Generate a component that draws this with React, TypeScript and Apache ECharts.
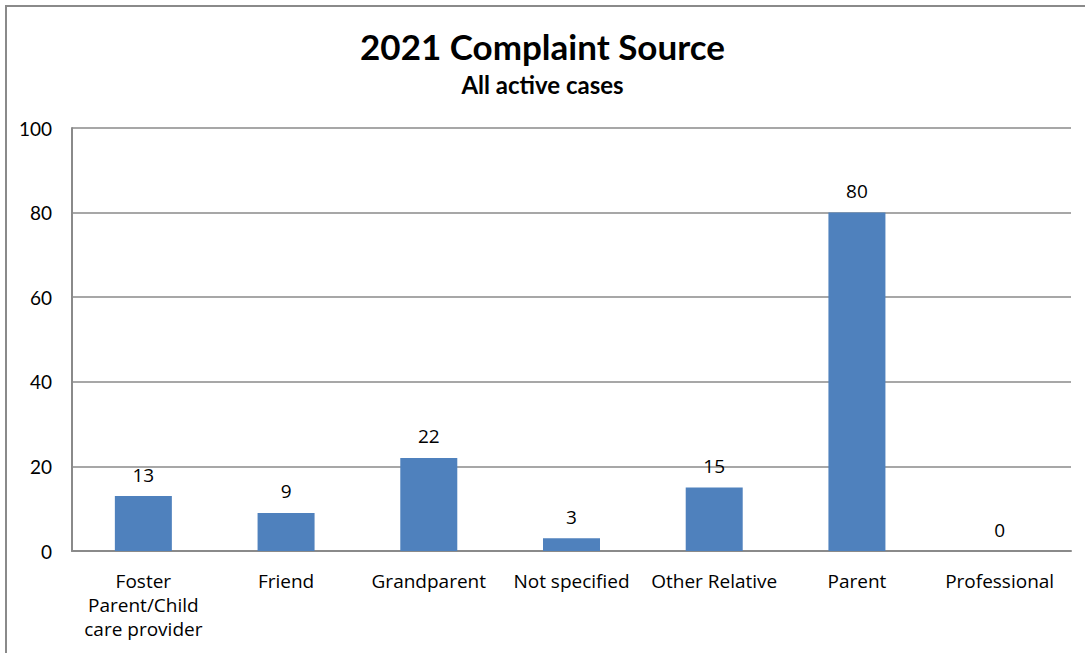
import React, { useEffect, useRef } from "react";
import * as echarts from "echarts";

const categories = [
  "Foster\nParent/Child\ncare provider",
  "Friend",
  "Grandparent",
  "Not specified",
  "Other Relative",
  "Parent",
  "Professional",
];
const values = [13, 9, 22, 3, 15, 80, 0];
const titleText = "2021 Complaint Source";
const subtitleText = "All active cases";

const FONT = "Lato, 'Open Sans', sans-serif";
const WIDE = "'Open Sans', Lato, sans-serif";

export default function App() {
  const ref = useRef<HTMLDivElement>(null);
  useEffect(() => {
    const chart = echarts.init(ref.current!, null, { renderer: "svg" });
    chart.setOption({
      animation: false,
      backgroundColor: "#ffffff",
      graphic: [
        {
          type: "rect",
          shape: { x: 6, y: 6, width: 1200, height: 800 },
          style: { fill: "none", stroke: "#8a8a8a", lineWidth: 2 },
          silent: true,
        },
      ],
      title: {
        text: titleText,
        subtext: subtitleText,
        left: "center",
        top: 23,
        itemGap: 9,
        textStyle: { fontFamily: FONT, fontSize: 35, fontWeight: "bold", color: "#000" },
        subtextStyle: { fontFamily: FONT, fontSize: 24, fontWeight: "bold", color: "#000" },
      },
      grid: { left: 72, right: 14, top: 128, bottom: 102, containLabel: false },
      xAxis: {
        type: "category",
        data: categories,
        axisLine: { show: true, lineStyle: { color: "#8a8a8a", width: 2 } },
        axisTick: { show: false },
        axisLabel: {
          interval: 0,
          margin: 18,
          fontFamily: WIDE,
          fontSize: 19,
          lineHeight: 24,
          color: "#000",
        },
      },
      yAxis: {
        type: "value",
        min: 0,
        max: 100,
        interval: 20,
        axisLine: { show: true, lineStyle: { color: "#8a8a8a", width: 2 } },
        axisTick: { show: false },
        splitLine: { show: true, lineStyle: { color: "#8a8a8a", width: 1.5 } },
        axisLabel: { margin: 20, fontFamily: FONT, fontSize: 19, color: "#000" },
      },
      series: [
        {
          type: "bar",
          data: values,
          barWidth: 57,
          itemStyle: { color: "#4F81BD" },
          label: {
            show: true,
            position: "top",
            distance: 12,
            fontFamily: WIDE,
            fontSize: 19,
            color: "#000",
          },
        },
      ],
    });
    return () => chart.dispose();
  }, []);
  return (
    <div
      ref={ref}
      style={{ position: "absolute", left: 0, top: 0, width: 1085, height: 653 }}
    />
  );
}
